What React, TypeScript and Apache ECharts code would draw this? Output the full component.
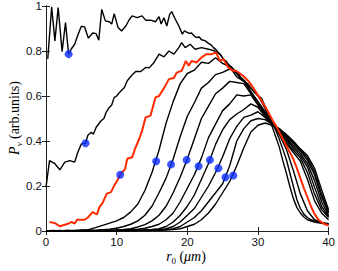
import React, { useEffect, useRef } from "react";
import * as echarts from "echarts";

const r0Grid = [0,1,2,3,4,5,6,7,8,9,10,11,12,13,14,15,16,17,18,19,20,21,22,23,24,25,26,27,28,29,30,31,32,33,34,35,36,37,38,39,40];

const curve1 = [[0.25,0.765],[0.8,0.996],[1.26,0.845],[1.72,0.993],[2.28,0.797],[2.76,0.926],[3.2,0.786],[3.6,0.81],[4.06,0.83],[4.5,0.87],[5.0,0.91],[5.46,0.907],[6.0,0.857],[6.6,0.88],[7.1,0.877],[7.47,0.848],[7.89,0.985],[8.4,0.934],[8.96,0.93],[9.3,0.92],[9.66,0.966],[10.2,0.904],[10.7,0.889],[11.3,0.911],[11.8,0.94],[12.2,0.956],[12.9,0.948],[13.6,0.956],[14.1,0.937],[14.8,0.937],[15.5,0.93],[16.0,0.953],[16.3,0.92],[16.7,0.948],[17.1,0.911],[17.5,0.963],[17.8,0.975],[18.2,0.948],[18.8,0.911],[19.3,0.875],[19.6,0.89],[19.9,0.884],[20.3,0.878],[20.6,0.88],[21.0,0.866],[21.3,0.86],[21.7,0.862],[22.0,0.85],[22.5,0.846],[23.0,0.834],[23.4,0.826],[23.7,0.815],[24.1,0.805],[24.4,0.793],[24.8,0.78],[25.1,0.764],[25.5,0.755],[25.8,0.741],[26.3,0.728],[26.7,0.712],[27.2,0.7],[27.6,0.682],[28.1,0.668],[28.6,0.646],[29.3,0.625],[30.0,0.6],[30.5,0.575],[31.0,0.545],[31.5,0.505],[32.0,0.465],[32.5,0.42],[33.0,0.375],[33.5,0.315],[34.0,0.26],[34.5,0.2],[35.0,0.145],[35.5,0.105],[36.0,0.08],[36.5,0.062],[37.0,0.05],[38.0,0.04],[39.0,0.034],[40.0,0.03]];

const curve2 = [[0,0.195],[0.5,0.313],[1.26,0.299],[1.96,0.272],[2.66,0.306],[3.36,0.313],[4.06,0.306],[4.5,0.35],[5.0,0.387],[5.6,0.39],[5.9,0.424],[6.4,0.439],[6.7,0.43],[7.1,0.461],[7.8,0.49],[8.2,0.5],[8.5,0.527],[8.96,0.549],[9.3,0.56],[9.66,0.594],[10.0,0.6],[10.4,0.616],[11.1,0.638],[11.5,0.668],[12.2,0.694],[12.7,0.709],[13.4,0.709],[14.1,0.727],[14.6,0.725],[15.3,0.749],[16.0,0.786],[16.7,0.774],[17.4,0.8],[18.1,0.786],[18.8,0.815],[19.2,0.837],[19.7,0.815],[20.4,0.83],[21.1,0.808],[22.0,0.815],[23.0,0.808],[23.9,0.8],[24.6,0.786],[25.3,0.756],[26.2,0.727],[26.9,0.704],[27.6,0.675],[28.6,0.653],[29.5,0.616],[30.5,0.59],[31.0,0.555],[31.5,0.52],[32.0,0.485],[32.5,0.45],[33.0,0.41],[33.5,0.365],[34.0,0.32],[34.5,0.26],[35.0,0.2],[35.5,0.14],[36.0,0.1],[36.5,0.075],[37.0,0.06],[37.5,0.05],[38.0,0.045],[39.0,0.038],[40.0,0.033]];

const redCurve = [[0.5,0.04],[1.26,0.035],[1.96,0.021],[2.66,0.028],[3.2,0.033],[3.6,0.04],[4.06,0.033],[4.4,0.05],[5.46,0.05],[5.9,0.059],[6.6,0.084],[7.2,0.074],[7.56,0.106],[8.0,0.124],[8.6,0.166],[9.2,0.173],[9.66,0.202],[10.1,0.225],[10.5,0.25],[11.2,0.276],[11.5,0.321],[12.2,0.328],[12.6,0.365],[13.2,0.41],[13.6,0.446],[14.1,0.505],[14.8,0.513],[15.5,0.594],[16.0,0.6],[16.7,0.635],[17.4,0.675],[18.1,0.68],[18.5,0.704],[19.2,0.712],[19.8,0.756],[20.2,0.734],[20.6,0.756],[21.3,0.749],[22.0,0.771],[22.7,0.786],[23.4,0.786],[24.1,0.793],[24.6,0.756],[25.1,0.764],[25.8,0.727],[26.5,0.712],[26.9,0.712],[27.9,0.69],[28.6,0.668],[29.3,0.638],[30.2,0.594],[31.1,0.549],[32.1,0.49],[32.6,0.465],[33.0,0.44],[33.5,0.41],[34.0,0.38],[34.5,0.35],[35.0,0.32],[35.5,0.28],[36.0,0.235],[36.5,0.19],[37.0,0.15],[37.5,0.11],[38.0,0.076],[38.5,0.052],[39.0,0.038],[39.5,0.03],[40.0,0.024]];

const curve4 = [0,0.002,0,0.003,0.002,0.005,0.006,0.015,0.025,0.035,0.045,0.06,0.085,0.12,0.18,0.26,0.36,0.48,0.575,0.655,0.7,0.715,0.75,0.745,0.77,0.745,0.73,0.685,0.665,0.62,0.575,0.53,0.48,0.43,0.365,0.27,0.165,0.09,0.05,0.037,0.03];
const curve5 = [0,0,0.002,0,0.001,0.003,0.002,0.004,0.006,0.008,0.012,0.02,0.03,0.045,0.07,0.11,0.17,0.235,0.32,0.42,0.51,0.57,0.635,0.66,0.695,0.705,0.72,0.7,0.67,0.615,0.575,0.525,0.475,0.43,0.39,0.35,0.31,0.23,0.135,0.08,0.05];
const curve6 = [0,0.001,0,0.002,0,0.001,0.002,0.001,0.003,0.004,0.005,0.007,0.01,0.018,0.028,0.045,0.07,0.11,0.17,0.24,0.32,0.41,0.5,0.555,0.61,0.635,0.665,0.66,0.655,0.61,0.565,0.52,0.48,0.44,0.4,0.36,0.325,0.26,0.165,0.095,0.06];
const curve7 = [0,0,0.001,0,0.001,0,0.002,0.001,0.002,0.003,0.003,0.004,0.006,0.008,0.012,0.02,0.03,0.05,0.08,0.13,0.19,0.25,0.325,0.415,0.475,0.535,0.565,0.605,0.6,0.605,0.56,0.515,0.48,0.445,0.41,0.37,0.335,0.285,0.195,0.11,0.065];
const curve8 = [0,0,0,0.001,0,0.001,0,0.001,0.002,0.001,0.002,0.003,0.003,0.004,0.005,0.007,0.01,0.02,0.04,0.07,0.11,0.16,0.23,0.3,0.385,0.45,0.495,0.52,0.54,0.565,0.55,0.51,0.48,0.45,0.415,0.38,0.345,0.3,0.225,0.13,0.07];
const curve9 = [0,0,0.001,0,0,0.001,0,0.001,0,0.001,0.002,0.002,0.003,0.003,0.004,0.005,0.006,0.01,0.02,0.04,0.07,0.1,0.15,0.2,0.26,0.33,0.41,0.465,0.505,0.515,0.53,0.505,0.475,0.45,0.42,0.39,0.355,0.315,0.25,0.15,0.08];
const curve10 = [0,0,0,0,0.001,0,0,0.001,0,0,0.001,0.001,0.002,0.002,0.003,0.003,0.004,0.006,0.01,0.02,0.04,0.06,0.09,0.13,0.17,0.21,0.29,0.4,0.455,0.49,0.5,0.495,0.475,0.455,0.425,0.395,0.36,0.325,0.265,0.165,0.085];
const curve11 = [0,0,0,0,0,0,0.001,0,0,0,0,0.001,0.001,0.001,0.002,0.002,0.003,0.004,0.006,0.01,0.02,0.03,0.05,0.08,0.12,0.17,0.22,0.29,0.37,0.44,0.47,0.48,0.47,0.455,0.43,0.4,0.365,0.335,0.28,0.185,0.095];

const markers = [[3.2,0.786],[5.6,0.39],[10.5,0.25],[15.6,0.31],[17.7,0.296],[19.9,0.316],[21.6,0.288],[23.2,0.316],[24.4,0.279],[25.4,0.239],[26.5,0.247]];

const xTicks = [0, 10, 20, 30, 40];
const yTicks = [0, 0.2, 0.4, 0.6, 0.8, 1];

const lineColor = "#000000";
const redColor = "#ff2a00";
const dotColor = "#0a2cff";
const axisColor = "#222222";

export default function App() {
  const ref = useRef<HTMLDivElement>(null);
  useEffect(() => {
    const chart = echarts.init(ref.current!, null, { renderer: "svg" });
    const gridded = [curve4, curve5, curve6, curve7, curve8, curve9, curve10, curve11].map((ys) =>
      ys.map((y, i) => [r0Grid[i], y])
    );
    const blackSets = [curve1, curve2, ...gridded];
    const labelFont = { fontFamily: "Liberation Sans, Arial, sans-serif", fontSize: 11.5, color: "#111" };
    const commonAxis = {
      axisLine: { show: true, lineStyle: { color: axisColor, width: 1 } },
      axisTick: { show: true, inside: true, length: 4, lineStyle: { color: axisColor, width: 1 } },
      splitLine: { show: false },
    };
    const serifRich = {
      i: { fontFamily: "Liberation Serif, serif", fontStyle: "italic", fontSize: 14, color: "#222", lineHeight: 18, verticalAlign: "middle" },
      s: { fontFamily: "Liberation Serif, serif", fontSize: 9, color: "#222", lineHeight: 9, verticalAlign: "bottom" },
      si: { fontFamily: "Liberation Serif, serif", fontStyle: "italic", fontSize: 9, color: "#222", lineHeight: 9, verticalAlign: "bottom" },
      n: { fontFamily: "Liberation Serif, serif", fontSize: 14, color: "#222", lineHeight: 18, verticalAlign: "middle" },
    };
    chart.setOption({
      animation: false,
      backgroundColor: "#ffffff",
      grid: { left: 46, right: 7, top: 5, bottom: 40, containLabel: false },
      xAxis: [
        {
          type: "value", min: xTicks[0], max: xTicks[xTicks.length - 1], interval: 10, position: "bottom",
          ...commonAxis,
          axisLabel: { ...labelFont, margin: 5, formatter: (v: number) => String(v) },
        },
        {
          type: "value", min: xTicks[0], max: xTicks[xTicks.length - 1], interval: 10, position: "top",
          ...commonAxis,
          axisLabel: { show: false },
        },
      ],
      yAxis: [
        {
          type: "value", min: yTicks[0], max: yTicks[yTicks.length - 1], interval: 0.2, position: "left",
          ...commonAxis,
          axisLabel: { ...labelFont, margin: 4, formatter: (v: number) => (v === 0 || v === 1 ? String(v) : v.toFixed(1)) },
        },
        {
          type: "value", min: yTicks[0], max: yTicks[yTicks.length - 1], interval: 0.2, position: "right",
          ...commonAxis,
          axisLabel: { show: false },
        },
      ],
      graphic: [
        {
          type: "text", x: 14, y: 118, rotation: Math.PI / 2,
          style: { text: "{i|P}{si|v} {n|(arb.units)}", rich: serifRich, align: "center", verticalAlign: "middle" },
        },
        {
          type: "text", x: 186, y: 256,
          style: { text: "{i|r}{s|0} {n|(}{i|μm}{n|)}", rich: serifRich, align: "center", verticalAlign: "middle" },
        },
      ],
      series: [
        ...blackSets.map((d, k) => ({
          type: "line", name: "run" + (k + 1), data: d, xAxisIndex: 0, yAxisIndex: 0,
          showSymbol: false, symbol: "none", silent: true, z: 2,
          lineStyle: { color: lineColor, width: 1.4 },
        })),
        {
          type: "line", name: "highlight", data: redCurve, xAxisIndex: 0, yAxisIndex: 0,
          showSymbol: false, symbol: "none", silent: true, z: 3,
          lineStyle: { color: redColor, width: 2 },
        },
        {
          type: "scatter", name: "markers", data: markers, xAxisIndex: 0, yAxisIndex: 0,
          symbol: "circle", symbolSize: 8, silent: true, z: 4,
          itemStyle: { color: dotColor },
        },
      ],
    });
    return () => chart.dispose();
  }, []);
  return <div ref={ref} style={{ position: "fixed", left: 0, top: 0, width: 338, height: 271 }} />;
}
